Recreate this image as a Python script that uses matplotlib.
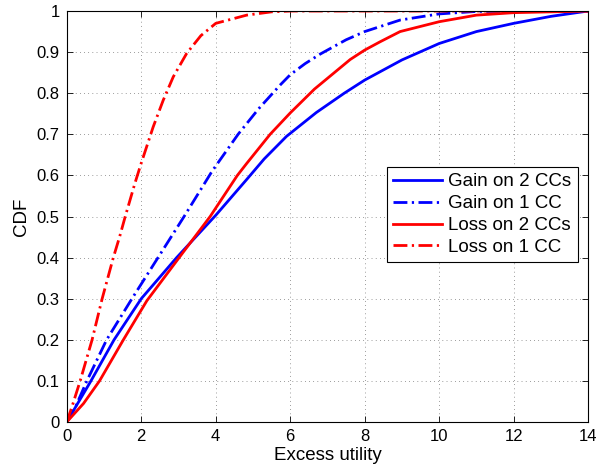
import numpy as np
import matplotlib
matplotlib.use('Agg')
import matplotlib.pyplot as plt

plt.rcParams['font.family'] = ['Liberation Sans', 'DejaVu Sans']

# CDF curves
gain2_x = [0, 0.65, 1.27, 2.0, 2.95, 4.0, 4.83, 5.3, 5.9, 6.7, 7.45, 8.0, 9.0, 10.0, 11.0, 12.0, 13.0, 14.0]
gain2_y = [0, 0.1, 0.2, 0.3, 0.4, 0.503, 0.59, 0.64, 0.695, 0.753, 0.8, 0.832, 0.881, 0.921, 0.95, 0.97, 0.987, 1.0]

gain1_x = [0, 0.25, 0.54, 1.07, 1.75, 2.45, 3.15, 3.9, 4.6, 5.15, 5.73, 6.0, 6.4, 6.8, 7.5, 8.0, 8.95, 10.0, 11.0, 14.0]
gain1_y = [0, 0.04, 0.1, 0.2, 0.3, 0.4, 0.5, 0.61, 0.7, 0.762, 0.82, 0.845, 0.872, 0.895, 0.93, 0.95, 0.978, 0.993, 0.999, 1.0]

loss2_x = [0, 0.45, 0.88, 1.52, 2.15, 3.1, 3.85, 4.58, 4.83, 5.46, 6.0, 6.65, 7.61, 8.0, 8.41, 8.95, 10.0, 11.0, 12.0, 14.0]
loss2_y = [0, 0.045, 0.1, 0.2, 0.295, 0.41, 0.5, 0.6, 0.629, 0.7, 0.752, 0.81, 0.882, 0.905, 0.925, 0.95, 0.974, 0.99, 0.996, 1.0]

loss1_x = [0, 0.15, 0.36, 0.68, 0.95, 1.25, 1.42, 1.57, 1.83, 2.0, 2.32, 2.59, 2.86, 3.22, 3.6, 4.0, 4.83, 5.5, 6.0, 14.0]
loss1_y = [0, 0.04, 0.1, 0.2, 0.3, 0.4, 0.451, 0.5, 0.581, 0.63, 0.718, 0.783, 0.84, 0.897, 0.94, 0.97, 0.99, 0.998, 1.0, 1.0]

labels = ['Gain on 2 CCs', 'Gain on 1 CC', 'Loss on 2 CCs', 'Loss on 1 CC']
xticks = [0, 2, 4, 6, 8, 10, 12, 14]
yticks = [0, 0.1, 0.2, 0.3, 0.4, 0.5, 0.6, 0.7, 0.8, 0.9, 1]
ytick_labels = ['0', '0.1', '0.2', '0.3', '0.4', '0.5', '0.6', '0.7', '0.8', '0.9', '1']

dashdot = (0, (5, 1.6, 0.8, 1.6))

fig = plt.figure(figsize=(6.07, 4.67), dpi=100)
ax = fig.add_axes([0.110, 0.0964, 0.859, 0.880])

ax.plot(gain2_x, gain2_y, color='#0000ff', lw=2.0, linestyle='-', label=labels[0])
ax.plot(gain1_x, gain1_y, color='#0000ff', lw=2.0, linestyle=dashdot, label=labels[1])
ax.plot(loss2_x, loss2_y, color='#ff0000', lw=2.0, linestyle='-', label=labels[2])
ax.plot(loss1_x, loss1_y, color='#ff0000', lw=2.0, linestyle=dashdot, label=labels[3])

ax.set_xlim(0, 14)
ax.set_ylim(0, 1)
ax.set_xticks(xticks)
ax.set_yticks(yticks)
ax.set_yticklabels(ytick_labels)
ax.tick_params(direction='in', top=True, right=True, length=4, width=0.6, labelsize=12, pad=5)
for s in ax.spines.values():
    s.set_linewidth(0.8)

ax.grid(True, color='0.25', linestyle=(0, (1, 5)), linewidth=0.5)

ax.set_xlabel('Excess utility', fontsize=13.5, labelpad=2)
ax.set_ylabel('CDF', fontsize=13.5, labelpad=5)

leg = ax.legend(loc='upper left', bbox_to_anchor=(0.614, 0.621), borderaxespad=0,
                fontsize=13.5, handlelength=2.6, handletextpad=0.3, labelspacing=0.25,
                fancybox=False, framealpha=1, edgecolor='black', borderpad=0.35)
leg.get_frame().set_linewidth(0.8)

fig.savefig('out.png', dpi=100)
